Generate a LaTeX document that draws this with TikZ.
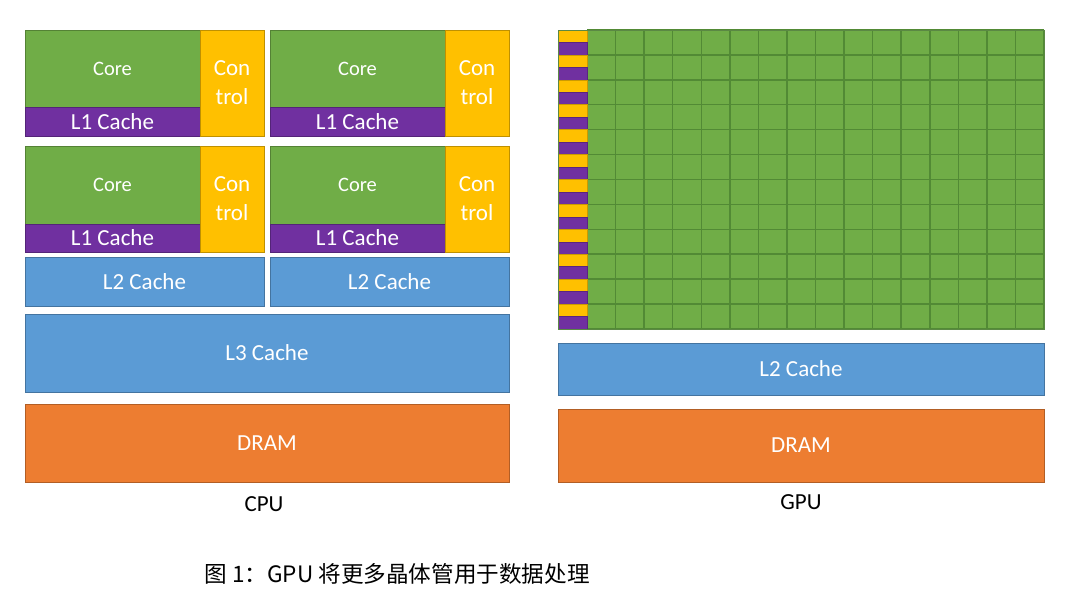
\documentclass[tikz,border=0pt]{standalone}
\usepackage{fontspec}
\setmainfont{Carlito}
\newfontfamily\cjk{Noto Sans CJK SC}
\definecolor{cgreen}{HTML}{70AD47}
\definecolor{cgreenline}{HTML}{528A35}
\definecolor{cpurple}{HTML}{7030A0}
\definecolor{cyellow}{HTML}{FFC000}
\definecolor{cblue}{HTML}{5B9BD5}
\definecolor{corange}{HTML}{ED7D31}
\begin{document}
\begin{tikzpicture}[x=1pt,y=-1pt,
  box/.style={draw=#1!75!black, fill=#1, line width=0.8pt, inner sep=0pt, outer sep=0pt, text=white,
    font=\fontsize{23}{29}\selectfont, align=center},
  corebox/.style={box=cgreen, font=\fontsize{20.5}{24}\selectfont},
  lbl/.style={text=black, font=\fontsize{23}{26}\selectfont},
]
\useasboundingbox (0,0) rectangle (1080,596);
\fill[white] (0,0) rectangle (1080,596);

% ---------- CPU ----------
% row 1
\node[corebox, minimum width=175pt, minimum height=77pt] (core1) at (112.5,68.5) {Core};
\node[box=cpurple, minimum width=175pt, minimum height=29pt] (l1a) at (112.5,121.5) {L1 Cache};
\node[box=cyellow, minimum width=64pt, minimum height=106pt] (ctl1) at (232,83) {Con\\trol};
\node[corebox, minimum width=175pt, minimum height=77pt] (core2) at (357.5,68.5) {Core};
\node[box=cpurple, minimum width=175pt, minimum height=29pt] (l1b) at (357.5,121.5) {L1 Cache};
\node[box=cyellow, minimum width=64pt, minimum height=106pt] (ctl2) at (477,83) {Con\\trol};
% row 2
\node[corebox, minimum width=175pt, minimum height=78pt] (core3) at (112.5,185) {Core};
\node[box=cpurple, minimum width=175pt, minimum height=28pt] (l1c) at (112.5,238) {L1 Cache};
\node[box=cyellow, minimum width=64pt, minimum height=106pt] (ctl3) at (232,199) {Con\\trol};
\node[corebox, minimum width=175pt, minimum height=78pt] (core4) at (357.5,185) {Core};
\node[box=cpurple, minimum width=175pt, minimum height=28pt] (l1d) at (357.5,238) {L1 Cache};
\node[box=cyellow, minimum width=64pt, minimum height=106pt] (ctl4) at (477,199) {Con\\trol};
% L2
\node[box=cblue, minimum width=239pt, minimum height=49pt] (l2a) at (144.5,281.5) {L2 Cache};
\node[box=cblue, minimum width=239pt, minimum height=49pt] (l2b) at (389.5,281.5) {L2 Cache};
% L3
\node[box=cblue, minimum width=484pt, minimum height=78pt] (l3) at (267,353) {L3 Cache};
% DRAM
\node[box=corange, minimum width=484pt, minimum height=78pt] (dram1) at (267,443) {DRAM};
\node[lbl] (cpu) at (264,504) {CPU};

% ---------- GPU ----------
\fill[cgreen] (587,30) rectangle (1044,329);
\foreach \i in {0,...,16} {
  \draw[cgreenline, line width=1.5pt] ({587+\i*457/16},30) -- ({587+\i*457/16},329);
}
\foreach \j in {0,...,12} {
  \draw[cgreenline, line width=1.5pt] (587,{30+\j*299/12}) -- (1044,{30+\j*299/12});
}
\foreach \j in {0,...,11} {
  \draw[fill=cyellow, draw=cyellow!80!black, line width=0.5pt] (558,{30+\j*299/12}) rectangle (587,{30+(\j+0.5)*299/12});
  \draw[fill=cpurple, draw=cpurple!80!black, line width=0.5pt] (558,{30+(\j+0.5)*299/12}) rectangle (587,{30+(\j+1)*299/12});
}
\draw[cgreenline!80!gray, line width=0.6pt] (558,30) rectangle (1044,329);
\node[box=cblue, minimum width=486pt, minimum height=52pt] (gl2) at (801,369) {L2 Cache};
\node[box=corange, minimum width=486pt, minimum height=73pt] (dram2) at (801,445.5) {DRAM};
\node[lbl] (gpu) at (801,502) {GPU};

% caption
\node[text=black, font=\cjk\fontsize{22.6}{26}\selectfont, anchor=west] (cap) at (201,574) {图 1：GPU 将更多晶体管用于数据处理};
\end{tikzpicture}
\end{document}
